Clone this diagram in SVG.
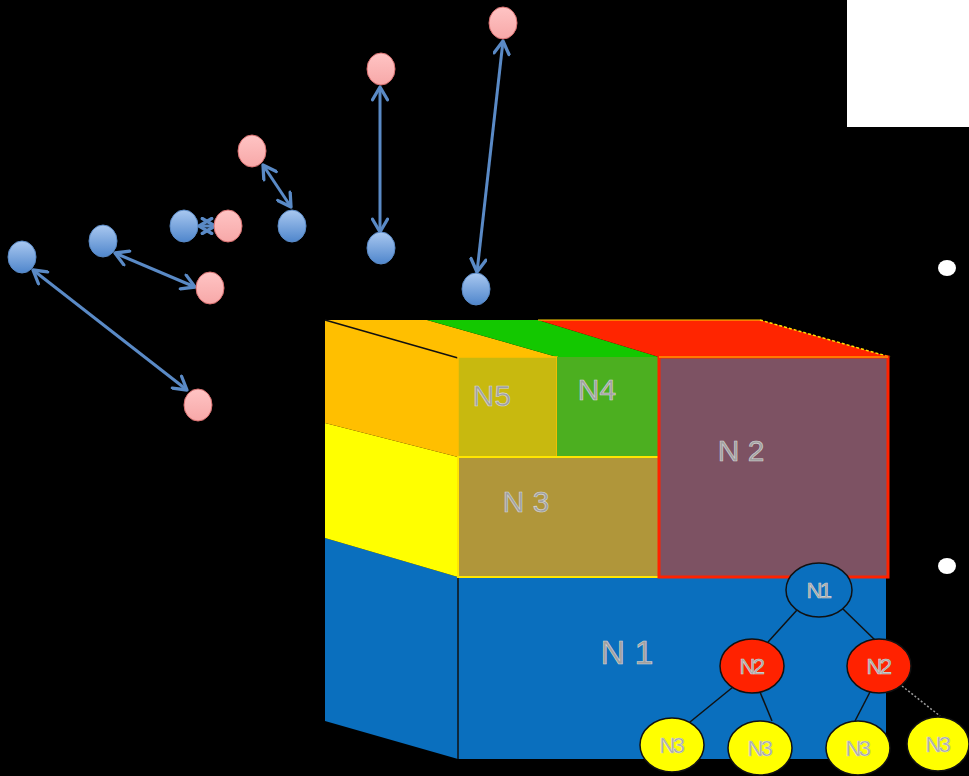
<svg xmlns="http://www.w3.org/2000/svg" width="969" height="776" viewBox="0 0 969 776">
<defs>
<style>
.lbl{font-family:"Liberation Sans",Arial,sans-serif;fill:#a0a0a0;stroke:#d6d6d6;stroke-width:0.6;text-anchor:middle}
.big{font-size:34px}
.mid{font-size:30px}
.small{font-size:22px;letter-spacing:-2.5px}
.arr{stroke:#5a8ac6;stroke-width:3;fill:none;marker-start:url(#hd);marker-end:url(#hd)}
.bn{fill:url(#gb);stroke:#5a8ac6;stroke-width:1}
.pn{fill:url(#gp);stroke:#d97070;stroke-width:1}
.tl{stroke:#111;stroke-width:1.5}
</style>
<linearGradient id="gb" x1="0" y1="0" x2="0" y2="1"><stop offset="0" stop-color="#a9c8f0"/><stop offset="1" stop-color="#4f86cc"/></linearGradient>
<linearGradient id="gp" x1="0" y1="0" x2="0" y2="1"><stop offset="0" stop-color="#ffc4c4"/><stop offset="1" stop-color="#f7a8a8"/></linearGradient>
<marker id="hd" viewBox="0 0 12 12" refX="10" refY="6" markerWidth="6" markerHeight="6" orient="auto-start-reverse" markerUnits="strokeWidth">
<path d="M1.5,1 L10,6 L1.5,11" fill="none" stroke="#5a8ac6" stroke-width="2.2" stroke-linecap="round" stroke-linejoin="round"/>
</marker>
</defs>
<rect width="969" height="776" fill="#000"/>
<rect x="847" y="0" width="122" height="127" fill="#fff"/>
<ellipse cx="947" cy="268" rx="9" ry="8" fill="#fff"/>
<ellipse cx="947" cy="566" rx="9" ry="8" fill="#fff"/>

<g id="cube">
<polygon points="325,538 458,577 458,759 325,721" fill="#0a6fbe"/>
<polygon points="325,423 458,457 458,577 325,538" fill="#ffff00"/>
<polygon points="325,320 458,358 458,457 325,423" fill="#ffbf00"/>
<polygon points="325,320 427,320 557,357 458,358" fill="#ffbf00"/>
<polygon points="427,320 538,320 659,357 557,357" fill="#13c800"/>
<polygon points="538,320 760,320 890,357 659,357" fill="#ff2500"/>
<line x1="538" y1="320" x2="760" y2="320" stroke="#ffd000" stroke-width="1"/>
<line x1="760" y1="320" x2="890" y2="357" stroke="#ffe000" stroke-width="1.5" stroke-dasharray="3,2"/>
<line x1="325" y1="320" x2="458" y2="358" stroke="#111" stroke-width="1.5"/>
<rect x="458" y="577" width="428" height="182" fill="#0a6fbe"/>
<line x1="458" y1="577" x2="458" y2="759" stroke="#111" stroke-width="1.5"/>
</g>
<g id="n5"><rect x="458" y="357" width="99" height="100" fill="#c8b90f" stroke="#ffbf00" stroke-width="1.5"/><text class="lbl mid" x="492" y="406">N5</text></g>
<g id="n4"><rect x="557" y="357" width="102" height="100" fill="#4caf20"/><text class="lbl mid" x="597" y="400">N4</text></g>
<g id="n3"><rect x="458" y="457" width="201" height="120" fill="#b0963a" stroke="#ffe600" stroke-width="2"/><text class="lbl mid" x="526" y="512">N 3</text></g>
<g id="n2"><rect x="659" y="357" width="229" height="220" fill="#7d5263" stroke="#ff2200" stroke-width="3"/><line x1="659" y1="357" x2="888" y2="357" stroke="#ffd000" stroke-width="1.2"/><text class="lbl mid" x="741" y="461">N 2</text></g>
<g id="n1"><text class="lbl big" x="627" y="664">N 1</text></g>

<g id="tree-edges">
<line class="tl" x1="797" y1="610" x2="768" y2="642"/>
<line class="tl" x1="843" y1="609" x2="876" y2="641"/>
<line class="tl" x1="733" y1="687" x2="690" y2="722"/>
<line class="tl" x1="760" y1="692" x2="772" y2="721"/>
<line class="tl" x1="870" y1="692" x2="855" y2="721"/>
<line x1="902" y1="686" x2="940" y2="716" stroke="#9a9a9a" stroke-width="1.5" stroke-dasharray="2,2"/>
</g>
<g id="t-n1"><ellipse cx="819" cy="590" rx="33" ry="27" fill="#0a6fbe" stroke="#111" stroke-width="1.5"/><text class="lbl small" x="818" y="598">N1</text></g>
<g id="t-n2a"><ellipse cx="752" cy="666" rx="32" ry="27" fill="#ff2200" stroke="#111" stroke-width="1.5"/><text class="lbl small" x="751" y="674">N2</text></g>
<g id="t-n2b"><ellipse cx="879" cy="666" rx="32" ry="27" fill="#ff2200" stroke="#111" stroke-width="1.5"/><text class="lbl small" x="878" y="674">N2</text></g>
<g id="t-n3a"><ellipse cx="672" cy="745" rx="32" ry="27" fill="#ffff00" stroke="#111" stroke-width="1.5"/><text class="lbl small" x="671" y="753">N3</text></g>
<g id="t-n3b"><ellipse cx="760" cy="748" rx="32" ry="27" fill="#ffff00" stroke="#111" stroke-width="1.5"/><text class="lbl small" x="759" y="756">N3</text></g>
<g id="t-n3c"><ellipse cx="858" cy="748" rx="32" ry="27" fill="#ffff00" stroke="#111" stroke-width="1.5"/><text class="lbl small" x="857" y="756">N3</text></g>
<g id="t-n3d"><ellipse cx="938" cy="744" rx="31" ry="27" fill="#ffff00" stroke="#111" stroke-width="1.5"/><text class="lbl small" x="937" y="752">N3</text></g>

<g id="connectors">
<line class="arr" x1="33" y1="270" x2="187" y2="390"/>
<line class="arr" x1="115" y1="253" x2="195" y2="287"/>
<line class="arr" x1="199" y1="226" x2="215" y2="226"/>
<line class="arr" x1="263" y1="165" x2="291" y2="207"/>
<line class="arr" x1="380" y1="87" x2="380" y2="232"/>
<line class="arr" x1="503" y1="41" x2="477" y2="272"/>
</g>
<g id="b1"><ellipse class="bn" cx="22" cy="257" rx="14" ry="16"/></g>
<g id="p1"><ellipse class="pn" cx="198" cy="405" rx="14" ry="16"/></g>
<g id="b2"><ellipse class="bn" cx="103" cy="241" rx="14" ry="16"/></g>
<g id="p2"><ellipse class="pn" cx="210" cy="288" rx="14" ry="16"/></g>
<g id="b3"><ellipse class="bn" cx="184" cy="226" rx="14" ry="16"/></g>
<g id="p3"><ellipse class="pn" cx="228" cy="226" rx="14" ry="16"/></g>
<g id="p4"><ellipse class="pn" cx="252" cy="151" rx="14" ry="16"/></g>
<g id="b4"><ellipse class="bn" cx="292" cy="226" rx="14" ry="16"/></g>
<g id="p5"><ellipse class="pn" cx="381" cy="69" rx="14" ry="16"/></g>
<g id="b5"><ellipse class="bn" cx="381" cy="248" rx="14" ry="16"/></g>
<g id="p6"><ellipse class="pn" cx="503" cy="23" rx="14" ry="16"/></g>
<g id="b6"><ellipse class="bn" cx="476" cy="289" rx="14" ry="16"/></g>
</svg>
